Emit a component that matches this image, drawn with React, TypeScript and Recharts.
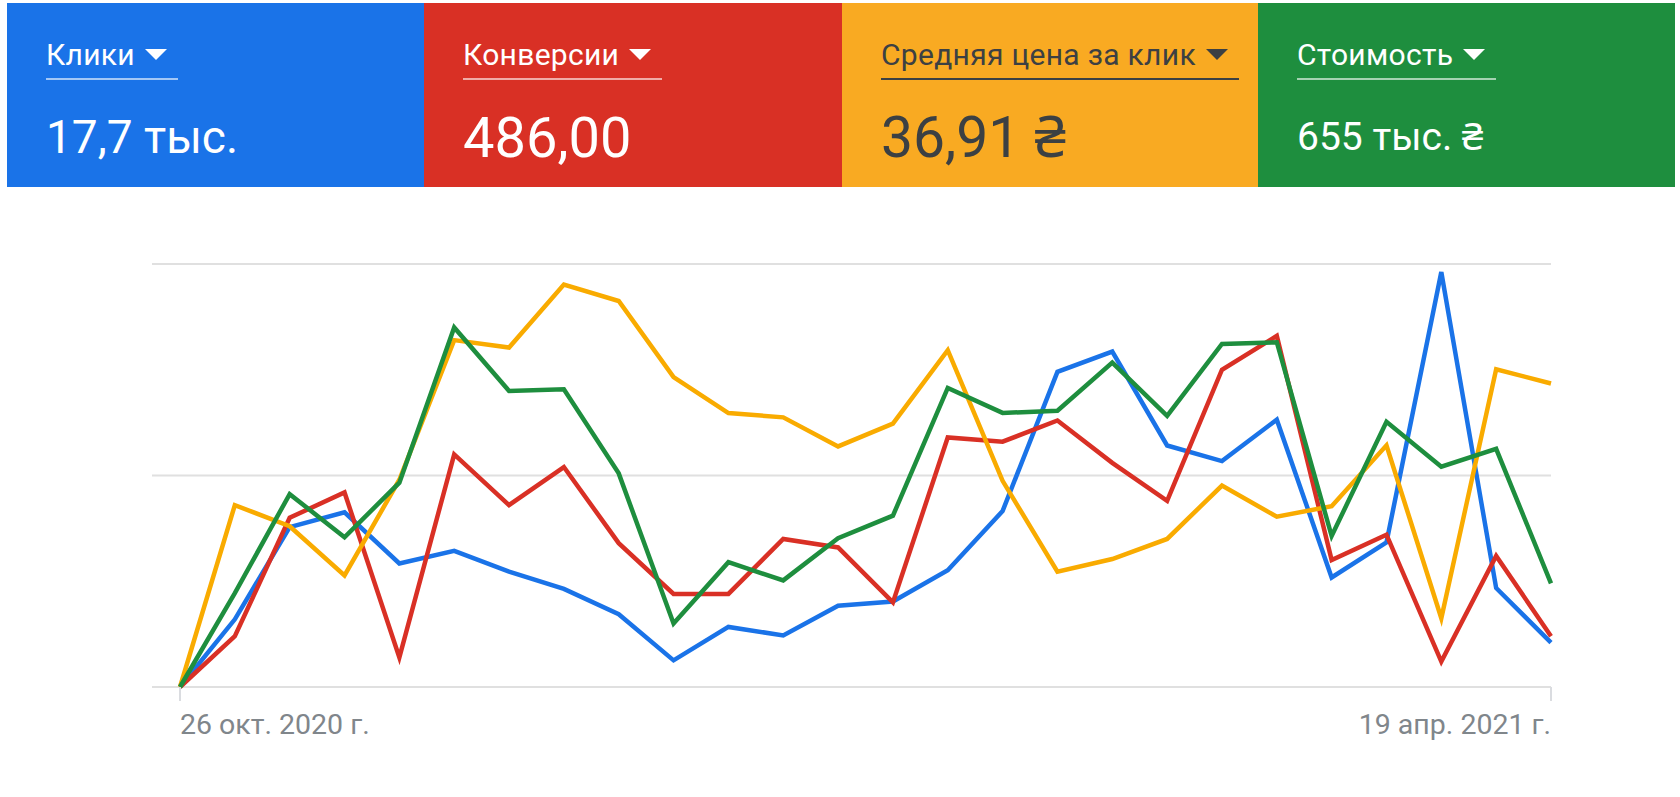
import React from 'react';
import { LineChart, Line, XAxis, YAxis, CartesianGrid } from 'recharts';

// недели (понедельник) — ось X
const weeks = [
  '26 окт. 2020 г.', '2 нояб. 2020 г.', '9 нояб. 2020 г.', '16 нояб. 2020 г.', '23 нояб. 2020 г.',
  '30 нояб. 2020 г.', '7 дек. 2020 г.', '14 дек. 2020 г.', '21 дек. 2020 г.', '28 дек. 2020 г.',
  '4 янв. 2021 г.', '11 янв. 2021 г.', '18 янв. 2021 г.', '25 янв. 2021 г.', '1 февр. 2021 г.',
  '8 февр. 2021 г.', '15 февр. 2021 г.', '22 февр. 2021 г.', '1 мар. 2021 г.', '8 мар. 2021 г.',
  '15 мар. 2021 г.', '22 мар. 2021 г.', '29 мар. 2021 г.', '5 апр. 2021 г.', '12 апр. 2021 г.',
  '19 апр. 2021 г.',
];

const clicks = [
  0, 320, 756, 826, 584, 644, 546, 464, 344, 126, 284, 244, 384,
  404, 552, 832, 1490, 1586, 1142, 1068, 1264, 518, 684, 1962, 468, 210,
];

const conversions = [
  0, 6, 20, 23, 3.5, 27.5, 21.5, 26, 17, 11, 11, 17.5, 16.5,
  10, 29.5, 29, 31.5, 26.5, 22, 37.5, 41.5, 15, 18, 3, 15.5, 6,
];

const avgCpc = [
  0, 34.4, 30.4, 21.1, 39.2, 65.6, 64.2, 76.1, 73.0, 58.6, 51.8, 51.0, 45.5,
  49.8, 63.7, 39.0, 21.8, 24.2, 28.0, 38.1, 32.2, 34.2, 45.7, 13.0, 60.1, 57.4,
];

const cost = [
  0, 11100, 22800, 17700, 24150, 42500, 35000, 35200, 25250, 7500, 14750, 12600, 17600,
  20250, 35350, 32400, 32650, 38350, 32050, 40550, 40750, 17850, 31350, 26050, 28150, 12250,
];

const clickTicks = [0, 1000, 2000];
const xTicks = [weeks[0], weeks[weeks.length - 1]];

const data = weeks.map((week, i) => ({
  week,
  clicks: clicks[i],
  conversions: conversions[i],
  avgCpc: avgCpc[i],
  cost: cost[i],
}));

const FONT = 'Roboto, "Noto Sans", Arial, sans-serif';

const cards = [
  { label: 'Клики', value: '17,7 тыс.', bg: '#1a73e8', fg: '#ffffff', line: 'rgba(255,255,255,0.6)', size: 46, base: 153 },
  { label: 'Конверсии', value: '486,00', bg: '#d93025', fg: '#ffffff', line: 'rgba(255,255,255,0.6)', size: 56, base: 157 },
  { label: 'Средняя цена за клик', value: '36,91 ₴', bg: '#f9aa22', fg: '#3c4043', line: '#3c4043', size: 57, base: 157 },
  { label: 'Стоимость', value: '655 тыс. ₴', bg: '#1e8e3e', fg: '#ffffff', line: 'rgba(255,255,255,0.6)', size: 39, base: 151 },
];

const DateTick = (props: any) => {
  const { x, y, payload, index } = props;
  return (
    <text
      x={x}
      y={y}
      dy={31}
      textAnchor={index === 0 ? 'start' : 'end'}
      fill="#80868b"
      fontSize={28.5}
      fontFamily={FONT}
    >
      {payload.value}
    </text>
  );
};

// ось кликов без подписей, но с делениями — по ним строится сетка
const NoTick = () => <g />;

export default function App() {
  return (
    <div style={{ position: 'absolute', left: 0, top: 0, width: 1680, height: 797, background: '#fff', fontFamily: FONT }}>
      {cards.map((c, i) => (
        <div
          key={c.label}
          style={{
            position: 'absolute',
            left: [7, 424, 842, 1258][i],
            top: 3,
            width: [417, 418, 416, 417][i],
            height: 184,
            background: c.bg,
            color: c.fg,
          }}
        >
          <div
            style={{
              position: 'absolute',
              left: 39,
              top: 37,
              fontSize: 30,
              letterSpacing: 0.3,
              lineHeight: '30px',
              paddingRight: 11,
              paddingBottom: 8,
              borderBottom: `2px solid ${c.line}`,
              whiteSpace: 'nowrap',
            }}
          >
            {c.label}
            <span
              style={{
                display: 'inline-block',
                marginLeft: 10,
                width: 0,
                height: 0,
                borderLeft: '11px solid transparent',
                borderRight: '11px solid transparent',
                borderTop: `11px solid ${c.fg}`,
                verticalAlign: 'middle',
                position: 'relative',
                top: -3,
              }}
            />
          </div>
          <div
            style={{
              position: 'absolute',
              left: 39,
              top: c.base - 3 - Math.round(c.size * 0.842),
              fontSize: c.size,
              lineHeight: `${c.size}px`,
              whiteSpace: 'nowrap',
            }}
          >
            {c.value}
          </div>
        </div>
      ))}

      <div style={{ position: 'absolute', left: 0, top: 200 }}>
        <LineChart width={1680} height={560} data={data} margin={{ top: 64, right: 129, left: 152, bottom: 0 }}>
          <CartesianGrid yAxisId="clicks" vertical={false} stroke="#e0e0e0" strokeWidth={2} />
          <XAxis
            dataKey="week"
            ticks={xTicks}
            interval={0}
            height={73}
            padding={{ left: 28, right: 0 }}
            axisLine={false}
            tickLine={{ stroke: '#dadce0', strokeWidth: 2 }}
            tickSize={14}
            tick={<DateTick />}
          />
          <YAxis
            yAxisId="clicks"
            domain={[0, 2000]}
            ticks={clickTicks}
            interval={0}
            width={0}
            tick={<NoTick />}
            axisLine={false}
            tickLine={false}
          />
          <YAxis yAxisId="conversions" domain={[0, 50]} hide />
          <YAxis yAxisId="cpc" domain={[0, 80]} hide />
          <YAxis yAxisId="cost" domain={[0, 50000]} hide />
          <Line yAxisId="clicks" dataKey="clicks" stroke="#1a73e8" strokeWidth={4.5} dot={false} isAnimationActive={false} />
          <Line yAxisId="conversions" dataKey="conversions" stroke="#d93025" strokeWidth={4.5} dot={false} isAnimationActive={false} />
          <Line yAxisId="cpc" dataKey="avgCpc" stroke="#f9ab00" strokeWidth={4.5} dot={false} isAnimationActive={false} />
          <Line yAxisId="cost" dataKey="cost" stroke="#1e8e3e" strokeWidth={4.5} dot={false} isAnimationActive={false} />
        </LineChart>
      </div>
    </div>
  );
}
